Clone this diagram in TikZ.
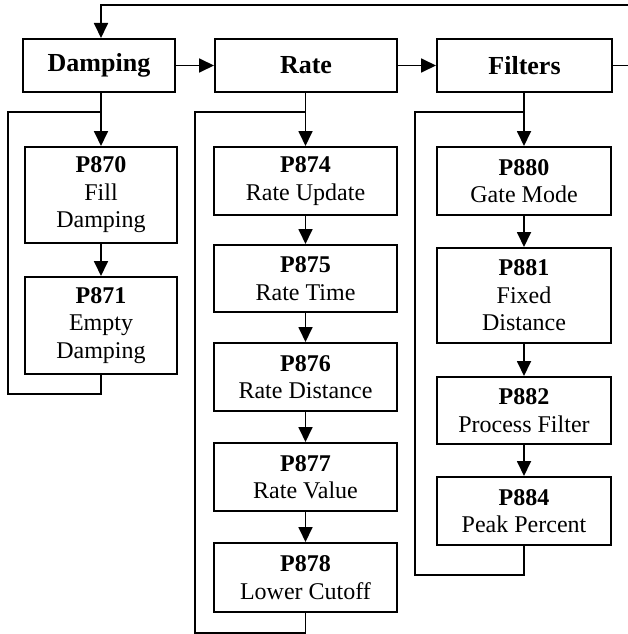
\documentclass[tikz,border=0pt]{standalone}
\usepackage{fontspec}
\setmainfont{Liberation Serif}
\usetikzlibrary{arrows.meta}
\begin{document}
\begin{tikzpicture}[x=1pt,y=-1pt,
  box/.style={draw, line width=2pt, inner sep=0pt, align=center},
  hdr/.style={box, minimum height=53pt, font=\fontsize{26}{30}\selectfont\bfseries},
  pbox/.style={box, font=\fontsize{24}{27.5}\selectfont},
  conn/.style={line width=1.8pt},
  arr/.style={conn, -{Triangle[length=15pt,width=14pt]}}]
\useasboundingbox (0,0) rectangle (628,634);

% headers
\node[hdr, minimum width=152pt] (damp) at (99,65.5) {Damping};
\node[hdr, minimum width=182pt] (rate) at (306,65.5) {Rate};
\node[hdr, minimum width=175pt] (filt) at (524.5,65.5) {Filters};

% damping column
\node[pbox, minimum width=152pt, minimum height=96pt] (p870) at (101,195) {\textbf{P870}\\Fill\\Damping};
\node[pbox, minimum width=152pt, minimum height=97pt] (p871) at (101,325.5) {\textbf{P871}\\Empty\\Damping};

% rate column
\node[pbox, minimum width=183pt, minimum height=68pt] (p874) at (305.5,181) {\textbf{P874}\\Rate Update};
\node[pbox, minimum width=183pt, minimum height=67pt] (p875) at (305.5,278.5) {\textbf{P875}\\Rate Time};
\node[pbox, minimum width=183pt, minimum height=68pt] (p876) at (305.5,377) {\textbf{P876}\\Rate Distance};
\node[pbox, minimum width=183pt, minimum height=68pt] (p877) at (305.5,477) {\textbf{P877}\\Rate Value};
\node[pbox, minimum width=183pt, minimum height=69pt] (p878) at (305.5,577.5) {\textbf{P878}\\Lower Cutoff};

% filters column
\node[pbox, minimum width=174pt, minimum height=68pt] (p880) at (524,181) {\textbf{P880}\\Gate Mode};
\node[pbox, minimum width=174pt, minimum height=95pt] (p881) at (524,295.5) {\textbf{P881}\\Fixed\\Distance};
\node[pbox, minimum width=174pt, minimum height=67pt] (p882) at (524,410.5) {\textbf{P882}\\Process Filter};
\node[pbox, minimum width=174pt, minimum height=68pt] (p884) at (524,511) {\textbf{P884}\\Peak Percent};

% junction coordinates
\coordinate (topL) at (101,5);
\coordinate (topR) at (634,5);
\coordinate (dj) at (101,112);
\coordinate (rj) at (305.5,112);
\coordinate (fj) at (524,112);
\coordinate (dl) at (8,112);
\coordinate (rl) at (195,112);
\coordinate (fl) at (415,112);

% header chain
\draw[arr] (damp) -- (rate);
\draw[arr] (rate) -- (filt);
\draw[arr] (filt.east) -- (filt.east -| topR) -- (topR) -- (topL) -- (topL |- damp.north);

% damping column
\draw[arr] (p870.north |- damp.south) -- (p870.north);
\draw[arr] (p870) -- (p871);
\draw[conn] (p871.south) -- ++(0,19) -| (dl) -- (dj);

% rate column
\draw[arr] (rate.south -| p874.north) -- (p874.north);
\draw[arr] (p874) -- (p875);
\draw[arr] (p875) -- (p876);
\draw[arr] (p876) -- (p877);
\draw[arr] (p877) -- (p878);
\draw[conn] (p878.south) -- ++(0,20) -| (rl) -- (rj);

% filters column
\draw[arr] (filt.south -| p880.north) -- (p880.north);
\draw[arr] (p880) -- (p881);
\draw[arr] (p881) -- (p882);
\draw[arr] (p882) -- (p884);
\draw[conn] (p884.south) -- ++(0,29) -| (fl) -- (fj);
\end{tikzpicture}
\end{document}
